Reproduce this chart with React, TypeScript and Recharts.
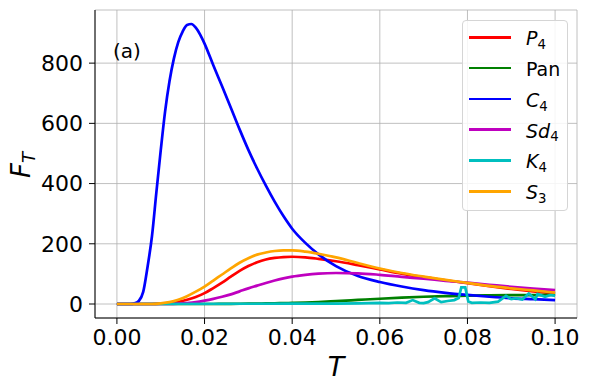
import React from "react";
import { LineChart, Line, XAxis, YAxis, CartesianGrid } from "recharts";

// shared T grid for the smooth curves
const tSmooth = [0, 0.008, 0.01, 0.012, 0.014, 0.016, 0.018, 0.02, 0.022, 0.024, 0.026, 0.028, 0.03, 0.032, 0.034, 0.036, 0.038, 0.04, 0.043, 0.046, 0.05, 0.055, 0.06, 0.065, 0.07, 0.075, 0.08, 0.085, 0.09, 0.095, 0.1];
const p4 = [0, 0, 1, 3, 7, 14, 23, 36, 53, 71, 91, 110, 126, 139, 148, 153, 156, 157, 155, 150, 142, 129, 115, 101, 89, 79, 69, 59, 50, 42, 35];
const pan = [0, 0, 0, 0, 0, 0, 0, 0, 0, 0.3, 0.5, 0.8, 1, 1.4, 1.8, 2.3, 2.9, 3.5, 4.8, 6.5, 9.5, 13.5, 17.5, 21, 24, 26, 27.5, 28.5, 29.3, 29.8, 30];
const sd4 = [0, 0, 0, 0, 1, 3, 6, 11, 17, 24, 32, 42, 52, 61, 70, 78, 85, 91, 97, 101, 103, 102, 97, 90, 84, 77, 71, 64, 57, 51, 46];
const s3 = [0, 0, 2, 6, 14, 26, 41, 58, 78, 98, 118, 137, 152, 164, 171, 176, 178, 178, 174, 167, 155, 136, 118, 103, 91, 80, 70, 60, 52, 45, 38];

const tC4 = [0, 0.003, 0.004, 0.005, 0.006, 0.007, 0.008, 0.009, 0.01, 0.011, 0.012, 0.013, 0.014, 0.015, 0.016, 0.017, 0.018, 0.019, 0.02, 0.022, 0.024, 0.026, 0.028, 0.03, 0.032, 0.034, 0.036, 0.038, 0.04, 0.043, 0.046, 0.05, 0.055, 0.06, 0.065, 0.07, 0.075, 0.08, 0.085, 0.09, 0.095, 0.1];
const c4 = [0, 0, 2, 10, 40, 124, 225, 370, 510, 640, 740, 815, 870, 905, 927, 930, 918, 895, 865, 793, 723, 652, 580, 512, 450, 393, 340, 292, 250, 203, 165, 126, 93, 73, 58, 46, 37, 30, 24, 19, 16, 13];

const tK4 = [0, 0.04, 0.05, 0.055, 0.06, 0.062, 0.064, 0.066, 0.0675, 0.069, 0.07, 0.071, 0.0725, 0.074, 0.0755, 0.077, 0.078, 0.0786, 0.0795, 0.0802, 0.081, 0.083, 0.085, 0.087, 0.0888, 0.09, 0.0911, 0.0925, 0.094, 0.0955, 0.096, 0.0977, 0.099, 0.1];
const k4 = [0, 1, 1, 2, 4, 3, 5, 4, 13, 4, 3, 6, 19, 6, 10, 13, 20, 55, 55, 8, 4, 5, 4, 8, 27, 16, 19, 15, 35, 16, 33, 24, 30, 27];

const xTicks = [0, 0.02, 0.04, 0.06, 0.08, 0.1];
const yTicks = [0, 200, 400, 600, 800];

const pts = (t: number[], v: number[]) => t.map((T, i) => ({ T, v: v[i] }));

const series = [
  { key: "P4", base: "P", sub: "4", italic: true, color: "#ff0000", data: pts(tSmooth, p4), type: "monotone" },
  { key: "Pan", base: "Pan", sub: "", italic: false, color: "#008000", data: pts(tSmooth, pan), type: "monotone" },
  { key: "C4", base: "C", sub: "4", italic: true, color: "#0000ff", data: pts(tC4, c4), type: "monotone" },
  { key: "Sd4", base: "Sd", sub: "4", italic: true, color: "#bf00bf", data: pts(tSmooth, sd4), type: "monotone" },
  { key: "K4", base: "K", sub: "4", italic: true, color: "#00bfbf", data: pts(tK4, k4), type: "linear" },
  { key: "S3", base: "S", sub: "3", italic: true, color: "#ffa500", data: pts(tSmooth, s3), type: "monotone" },
];

const FONT = "'DejaVu Sans', sans-serif";

const MathLabel = ({ base, sub, italic, subItalic }: any) => (
  <span>
    <span style={{ fontStyle: italic ? "italic" : "normal" }}>{base}</span>
    {sub && <span style={{ fontSize: "0.7em", position: "relative", top: "0.28em", fontStyle: subItalic ? "italic" : "normal" }}>{sub}</span>}
  </span>
);

export default function App() {
  const tick = { fontSize: 22, fill: "#000", fontFamily: FONT };
  return (
    <div style={{ position: "absolute", left: 0, top: 0, width: 589, height: 390, background: "#fff", fontFamily: FONT }}>
      <LineChart width={589} height={390} margin={{ top: 10, right: 12, bottom: 0, left: 0 }}>
        <CartesianGrid stroke="#b0b0b0" strokeWidth={0.8} />
        <XAxis
          dataKey="T"
          type="number"
          domain={[-0.005, 0.105]}
          ticks={xTicks}
          allowDataOverflow
          tickFormatter={(v) => v.toFixed(2)}
          tick={tick}
          tickMargin={5}
          stroke="#000"
          height={72}
        />
        <XAxis xAxisId="top" orientation="top" type="number" domain={[-0.005, 0.105]} tick={false} tickLine={false} stroke="#000" height={0} />
        <YAxis
          type="number"
          domain={[-46.5, 976.5]}
          ticks={yTicks}
          allowDataOverflow
          tick={tick}
          tickMargin={6}
          stroke="#000"
          width={95}
        />
        <YAxis yAxisId="right" orientation="right" tick={false} tickLine={false} stroke="#000" width={0} />
        {series.map((s) => (
          <Line
            key={s.key}
            data={s.data}
            dataKey="v"
            type={s.type as any}
            stroke={s.color}
            strokeWidth={2.7}
            dot={false}
            isAnimationActive={false}
          />
        ))}
      </LineChart>

      {/* axis labels */}
      <div style={{ position: "absolute", left: 316, top: 353, width: 40, textAlign: "center", fontSize: 27, lineHeight: 1, fontStyle: "italic" }}>T</div>
      <div style={{ position: "absolute", left: -9, top: 150, width: 60, height: 30, lineHeight: "30px", fontSize: 26, transform: "rotate(-90deg)", transformOrigin: "center", textAlign: "center" }}>
        <MathLabel base="F" sub="T" italic subItalic />
      </div>
      <div style={{ position: "absolute", left: 113, top: 40.5, fontSize: 20, lineHeight: 1 }}>(a)</div>

      {/* legend */}
      <div style={{ position: "absolute", left: 462, top: 20, width: 104, height: 189, border: "1px solid #d5d5d5", borderRadius: 4, background: "rgba(255,255,255,0.85)" }}>
        {series.map((s, i) => (
          <React.Fragment key={s.key}>
            <div style={{ position: "absolute", left: 6, top: 14.9 + 30.8 * i, width: 42, height: 2.7, background: s.color }} />
            <div style={{ position: "absolute", left: 63, top: 8.2 + 30.8 * i, fontSize: 19, lineHeight: 1, whiteSpace: "nowrap" }}>
              <MathLabel base={s.base} sub={s.sub} italic={s.italic} />
            </div>
          </React.Fragment>
        ))}
      </div>
    </div>
  );
}
